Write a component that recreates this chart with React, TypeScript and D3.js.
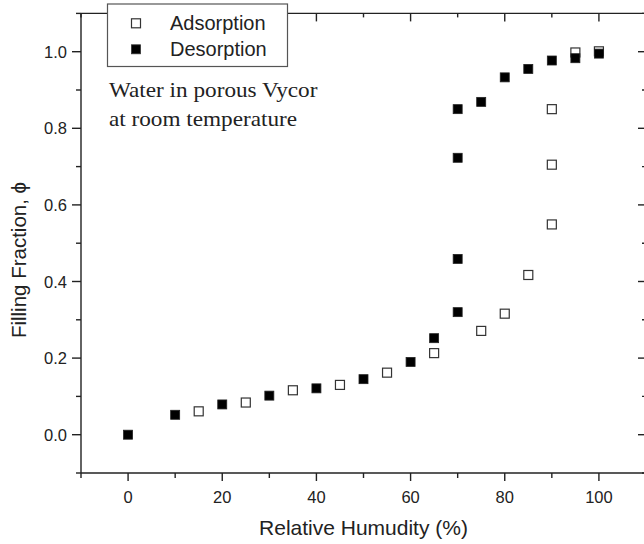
import React from "react";
import * as d3 from "d3";

const adsX = [15, 25, 35, 45, 55, 65, 75, 80, 85, 90, 90, 90, 95, 100];
const adsY = [0.061, 0.084, 0.116, 0.13, 0.162, 0.213, 0.271, 0.316, 0.417, 0.549, 0.705, 0.85, 0.998, 1.001];
const desX = [0, 10, 20, 30, 40, 50, 60, 65, 70, 70, 70, 70, 75, 80, 85, 90, 95, 100];
const desY = [0.0, 0.052, 0.079, 0.102, 0.121, 0.145, 0.19, 0.252, 0.32, 0.459, 0.723, 0.85, 0.869, 0.933, 0.955, 0.977, 0.983, 0.995];
const xMajor = [0, 20, 40, 60, 80, 100];
const xMinor = [-10, 10, 30, 50, 70, 90, 110];
const yMajor = [0, 0.2, 0.4, 0.6, 0.8, 1.0];
const yMinor = [-0.1, 0.1, 0.3, 0.5, 0.7, 0.9, 1.1];
const legendLabels = ["Adsorption", "Desorption"];
const noteLines = ["Water in porous Vycor", "at room temperature"];

const W = 644;
const H = 544;
const L = 81, R = 646, T = 13.4, B = 473;

export default function App() {
  const x = d3.scaleLinear().domain([-10, 110]).range([L, R]);
  const y = d3.scaleLinear().domain([-0.1, 1.1]).range([B, T]);
  const ax = "#222";
  const ms = 9;
  const sans = "'Liberation Sans', Arial, sans-serif";
  const serif = "'Liberation Serif', 'Times New Roman', serif";
  const fmt = d3.format(".1f");
  return (
    <svg width={W} height={H} style={{ position: "absolute", left: 0, top: 0, display: "block" }} fontFamily={sans}>
      <rect x={0} y={0} width={W} height={H} fill="#fff" />
      {/* axes frame */}
      <g stroke={ax} strokeWidth={1.4} fill="none">
        <line x1={L} x2={L} y1={T} y2={B} />
        <line x1={L} x2={R} y1={B} y2={B} />
        <line x1={L} x2={R} y1={T} y2={T} />
        <line x1={R} x2={R} y1={T} y2={B} />
        {yMajor.map((v) => (
          <g key={"ym" + v}>
            <line x1={L - 9} x2={L} y1={y(v)} y2={y(v)} />
            <line x1={R - 8} x2={R} y1={y(v)} y2={y(v)} />
          </g>
        ))}
        {yMinor.map((v) => (
          <g key={"yn" + v}>
            <line x1={L - 5} x2={L} y1={y(v)} y2={y(v)} />
            <line x1={R - 4} x2={R} y1={y(v)} y2={y(v)} />
          </g>
        ))}
        {xMajor.map((v) => (
          <g key={"xm" + v}>
            <line x1={x(v)} x2={x(v)} y1={B} y2={B + 8} />
            <line x1={x(v)} x2={x(v)} y1={T} y2={T + 8} />
          </g>
        ))}
        {xMinor.map((v) => (
          <g key={"xn" + v}>
            <line x1={x(v)} x2={x(v)} y1={B} y2={B + 5} />
            <line x1={x(v)} x2={x(v)} y1={T} y2={T + 4} />
          </g>
        ))}
      </g>
      {/* tick labels */}
      <g fill={ax} fontSize={16.5}>
        {yMajor.map((v) => (
          <text key={"yl" + v} x={L - 14} y={y(v)} textAnchor="end" dominantBaseline="central">
            {fmt(v)}
          </text>
        ))}
        {xMajor.map((v) => (
          <text key={"xl" + v} x={x(v)} y={503} textAnchor="middle">
            {v}
          </text>
        ))}
      </g>
      {/* axis titles */}
      <text x={(L + R) / 2} y={535} textAnchor="middle" fontSize={21} fill={ax}>
        Relative Humudity (%)
      </text>
      <text transform={`translate(26,260) rotate(-90)`} textAnchor="middle" fontSize={20.5} fill={ax}>
        Filling Fraction, ϕ
      </text>
      {/* data */}
      <g>
        {adsX.map((v, i) => (
          <rect key={"a" + i} x={x(v) - ms / 2} y={y(adsY[i]) - ms / 2} width={ms} height={ms} fill="#fff" stroke="#333" strokeWidth={1.2} />
        ))}
        {desX.map((v, i) => (
          <rect key={"d" + i} x={x(v) - ms / 2} y={y(desY[i]) - ms / 2} width={ms} height={ms} fill="#000" stroke="#222" strokeWidth={0.8} />
        ))}
      </g>
      {/* annotation */}
      <g fontFamily={serif} fontSize={21.5} fill="#222" transform="translate(109,0) scale(1.08,1) translate(-109,0)">
        {noteLines.map((t, i) => (
          <text key={t} x={109} y={97 + i * 29}>
            {t}
          </text>
        ))}
      </g>
      {/* legend */}
      <g>
        <rect x={107.5} y={4} width={180} height={62.5} fill="#fff" stroke="#555" strokeWidth={1.2} />
        {legendLabels.map((t, i) => (
          <g key={t}>
            <rect x={136 - ms / 2} y={23.3 + i * 26 - ms / 2} width={ms} height={ms}
              fill={i === 0 ? "#fff" : "#000"} stroke="#333" strokeWidth={i === 0 ? 1.2 : 0.8} />
            <text x={170} y={23.3 + i * 26} dominantBaseline="central" fontSize={20} fill="#222">
              {t}
            </text>
          </g>
        ))}
      </g>
    </svg>
  );
}
